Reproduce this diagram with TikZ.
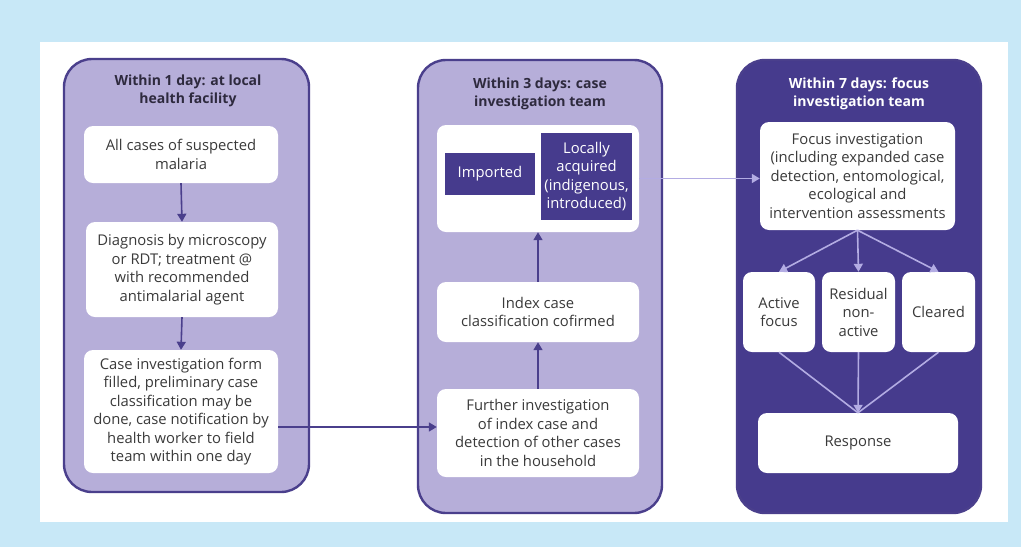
\documentclass[tikz,border=0pt]{standalone}
\usepackage{fontspec}
\setmainfont{Open Sans}
\usetikzlibrary{arrows.meta,calc}
\definecolor{skyband}{HTML}{C8E8F7}
\definecolor{lav}{HTML}{B6AED9}
\definecolor{deep}{HTML}{463B8D}
\definecolor{edge}{HTML}{4A3F8C}
\definecolor{ink}{HTML}{3A3A3A}
\definecolor{titleink}{HTML}{2E2A3E}
\definecolor{lavarrow}{HTML}{B3ACE3}
\tikzset{
  panel/.style={draw=edge, line width=2.4pt, rounded corners=28pt, fill=lav, inner sep=0pt},
  darkpanel/.style={panel, fill=deep},
  ttl/.style={align=center, font=\bfseries\fontsize{14}{18}\selectfont, text=titleink, inner sep=0pt},
  stepbox/.style={fill=white, rounded corners=9pt, align=center, inner sep=0pt,
    font=\fontsize{14.8}{18.5}\selectfont, text=ink},
  tagbox/.style={fill=deep, align=center, inner sep=0pt,
    font=\fontsize{14.8}{18.5}\selectfont, text=white},
  flow/.style={draw=edge, line width=1.6pt, -{Triangle[length=8pt,width=9pt]}},
  softflow/.style={draw=lavarrow, line width=1.6pt, -{Triangle[length=8pt,width=9pt]}},
  softline/.style={draw=lavarrow, line width=1.6pt},
}
\begin{document}
\begin{tikzpicture}[x=1pt,y=-1pt]
\useasboundingbox (0,0) rectangle (1021,547);
\fill[skyband] (0,0) rectangle (1021,547);
\fill[white] (40,42) rectangle (1008,522);

% panels
\node[panel, minimum width=245pt, minimum height=433pt] (p1) at (186.5,275.5) {};
\node[panel, minimum width=244pt, minimum height=453pt] (p2) at (540,286.5) {};
\node[darkpanel, minimum width=244pt, minimum height=453pt] (p3) at (859,286.5) {};

% panel titles
\node[ttl] (t1) at (188,91) {Within 1 day: at local\\health facility};
\node[ttl] (t2) at (540,94) {Within 3 days: case\\investigation team};
\node[ttl, text=white] (t3) at (859,94) {Within 7 days: focus\\investigation team};

% within 1 day
\node[stepbox, minimum width=194pt, minimum height=57pt] (b1) at (181,154.5)
  {All cases of suspected\\malaria};
\node[stepbox, minimum width=192pt, minimum height=95pt] (b2) at (182,269.5)
  {Diagnosis by microscopy\\or RDT; treatment @\\with recommended\\antimalarial agent};
\node[stepbox, minimum width=194pt, minimum height=123pt] (b3) at (181,411.5)
  {Case investigation form\\filled, preliminary case\\classification may be\\done, case notification by\\health worker to field\\team within one day};

% within 3 days
\node[stepbox, minimum width=202pt, minimum height=107pt] (oc) at (538,178.5) {};
\node[tagbox, minimum width=90pt, minimum height=42pt] (imp) at (490,174) {Imported};
\node[tagbox, minimum width=91pt, minimum height=87pt] (loc) at (586.5,176.5)
  {Locally\\acquired\\(indigenous,\\introduced)};
\node[stepbox, minimum width=202pt, minimum height=60pt] (ic) at (538,312)
  {Index case\\classification cofirmed};
\node[stepbox, minimum width=202pt, minimum height=88pt] (fi) at (538,433)
  {Further investigation\\of index case and\\detection of other cases\\in the household};

% within 7 days
\node[stepbox, minimum width=195pt, minimum height=108pt] (fo) at (857.5,176)
  {Focus investigation\\(including expanded case\\detection, entomological,\\ecological and\\intervention assessments};
\node[stepbox, minimum width=72pt, minimum height=80pt] (af) at (779,312) {Active\\focus};
\node[stepbox, minimum width=73pt, minimum height=80pt] (rn) at (858.5,312) {Residual\\non-\\active};
\node[stepbox, minimum width=73pt, minimum height=80pt] (cl) at (938.5,312) {Cleared};
\node[stepbox, minimum width=200pt, minimum height=60pt] (rs) at (858,443) {Response};

% connectors, first two panels
\coordinate (fiin) at ([yshift=6pt]fi.west);
\draw[flow] (b1.south) -- (b2.north);
\draw[flow] (b2.south) -- (b3.north);
\draw[flow] (b3.east |- fiin) -- (fiin);
\draw[flow] (fi.north) -- (ic.south);
\draw[flow] (ic.north) -- (oc.south);
\draw[softflow] (oc.east) -- (fo.west |- oc.east);

% connectors, focus panel
\draw[softflow] (fo.south) -- (af.north);
\draw[softflow] (fo.south) -- (rn.north);
\draw[softflow] (fo.south) -- (cl.north);
\draw[softline] (af.south) -- (rs.north);
\draw[softline] (cl.south) -- (rs.north);
\draw[softflow] (rn.south) -- (rs.north);
\end{tikzpicture}
\end{document}
